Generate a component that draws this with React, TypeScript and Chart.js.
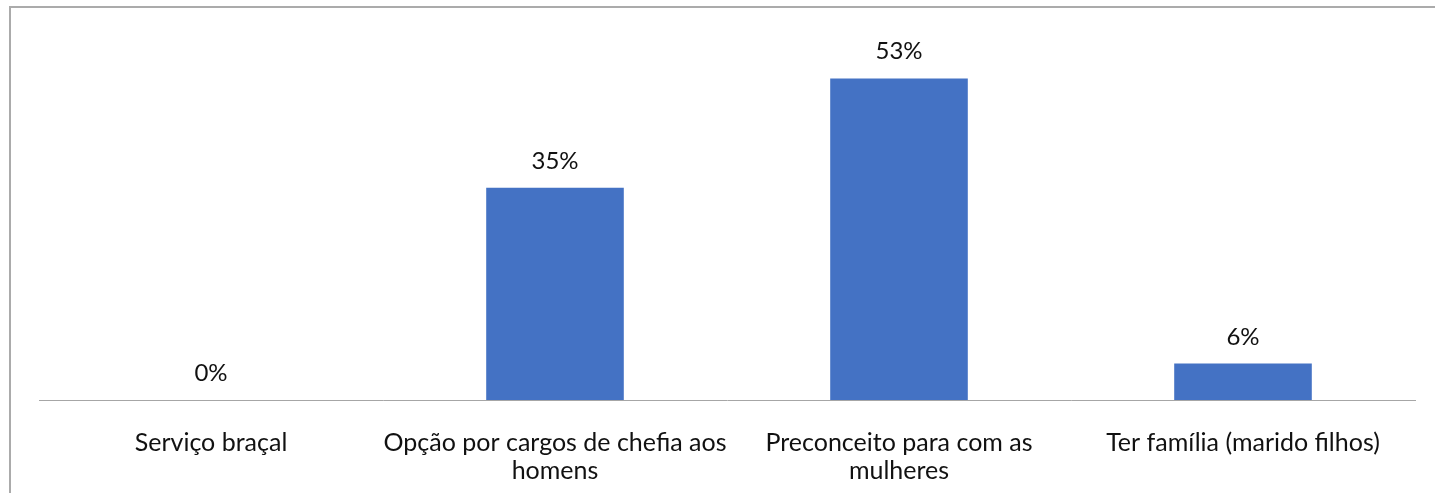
import React, { useEffect, useRef } from "react";
import { Chart, registerables } from "chart.js";

Chart.register(...registerables);

const categories: (string | string[])[] = [
  "Serviço braçal",
  ["Opção por cargos de chefia aos", "homens"],
  ["Preconceito para com as", "mulheres"],
  "Ter família (marido filhos)",
];
const values: number[] = [0, 35, 53, 6];
const valueLabels: string[] = ["0%", "35%", "53%", "6%"];

const FONT = "Lato";
const TEXT_COLOR = "#111111";

const valueLabelPlugin = {
  id: "valueLabels",
  afterDatasetsDraw(chart: any) {
    const ctx = chart.ctx;
    const meta = chart.getDatasetMeta(0);
    ctx.save();
    ctx.font = `24px ${FONT}`;
    ctx.fillStyle = TEXT_COLOR;
    ctx.textAlign = "center";
    ctx.textBaseline = "alphabetic";
    meta.data.forEach((el: any, i: number) => {
      ctx.fillText(valueLabels[i], el.x, el.y - 19);
    });
    ctx.restore();
  },
};

export default function App() {
  const ref = useRef<HTMLCanvasElement | null>(null);
  useEffect(() => {
    if (!ref.current) return;
    const chart = new Chart(ref.current, {
      type: "bar",
      data: {
        labels: categories,
        datasets: [
          {
            data: values,
            backgroundColor: "#4472C4",
            borderWidth: 0,
            categoryPercentage: 1,
            barPercentage: 0.4,
          },
        ],
      },
      options: {
        responsive: false,
        animation: false,
        layout: { padding: { left: 39, right: 20, top: 36, bottom: 0 } },
        plugins: {
          legend: { display: false },
          tooltip: { enabled: false },
          title: { display: false },
        },
        scales: {
          x: {
            grid: { display: false },
            border: { display: true, color: "#a6a6a6", width: 1 },
            ticks: {
              font: { family: FONT, size: 25, lineHeight: 28 / 25 },
              color: TEXT_COLOR,
              padding: 21,
              maxRotation: 0,
              autoSkip: false,
            },
            afterFit: (scale: any) => {
              scale.height = 93;
            },
          },
          y: {
            display: false,
            min: 0,
            max: 60,
          },
        },
      },
      plugins: [valueLabelPlugin],
    });
    return () => chart.destroy();
  }, []);

  return (
    <>
      <div
        style={{
          position: "fixed",
          left: 9,
          top: 6,
          right: 0,
          bottom: 0,
          borderLeft: "2px solid #ababab",
          borderTop: "2px solid #ababab",
          background: "#ffffff",
        }}
      />
      <canvas
        ref={ref}
        width={1435}
        height={493}
        style={{ position: "fixed", left: 0, top: 0, width: 1435, height: 493 }}
      />
    </>
  );
}
